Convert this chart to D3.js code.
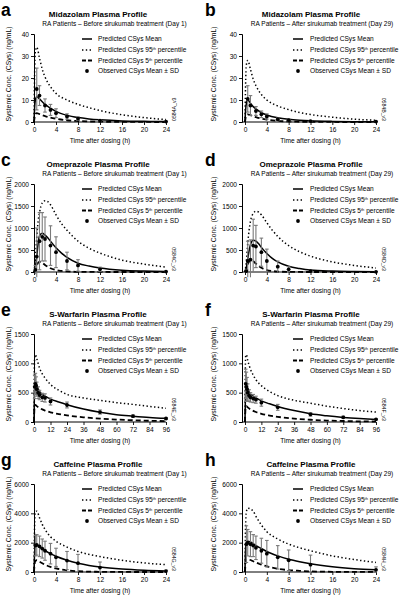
<!DOCTYPE html>
<html><head><meta charset="utf-8">
<script src="https://cdn.jsdelivr.net/npm/d3@7/dist/d3.min.js"></script>
<style>
html,body{margin:0;padding:0;background:#fff;}
svg{display:block;font-family:"Liberation Sans",Arial,Helvetica,sans-serif;}
</style></head>
<body><svg id="c" width="407" height="596"></svg>
<script>
// ---------- tick labels ----------
const xTicks24 = [0,4,8,12,16,20,24];
const xTicks96 = [0,12,24,36,48,60,72,84,96];
const yTicksMidaz = [0,10,20,30,40];
const yTicksOmep = [0,500,1000,1500,2000];
const yTicksWarf = [0,500,1000,1500];
const yTicksCaff = [0,2000,4000,6000];

// ---------- Midazolam ----------
const midazTimes = [0,0.1,0.25,0.5,1,1.5,2,3,4,6,8,10,12,16,20,24];
const midazD1P95  = [0,20,32,34,29,24,20.5,16,13,10,8,6.5,5.2,3.3,2,1.1];
const midazD1Mean = [0,6,10,11.5,10.5,9.2,8,6.3,4.8,3,2,1.4,1,0.5,0.3,0.2];
const midazD1P5   = [0,2,3.5,4,3.6,3.1,2.7,2,1.5,0.8,0.45,0.25,0.15,0.05,0.02,0];
const midazObsTimes = [0.5,1,2,3,4,6,8,12,24];
const midazD1ObsMean = [15,12,7.5,5.5,4,2.5,1.5,0.6,0.2];
const midazD1ObsSD   = [9.5,4.5,3,2.5,2,1.2,0.8,0.4,0.1];
const midazD29P95  = [0,16,26,28,24,19.5,16.5,12.5,10,7.3,5.6,4.3,3.4,2.2,1.3,0.8];
const midazD29Mean = [0,5,8.5,10,8.5,7,6,4.3,3.2,1.9,1.2,0.8,0.55,0.28,0.15,0.1];
const midazD29P5   = [0,1.8,3,3.5,3.1,2.6,2.2,1.5,1.05,0.5,0.25,0.12,0.07,0.02,0,0];
const midazD29ObsMean = [10.5,7.5,5,3.5,2.5,1.2,0.8,0.4,0.2];
const midazD29ObsSD   = [6,4.5,2,1.5,1.2,0.6,0.4,0.2,0.1];

// ---------- Omeprazole ----------
const omepTimes = [0,0.25,0.5,0.75,1,1.5,2,2.5,3,4,5,6,8,10,12,16,20,24];
const omepD1P95  = [0,300,800,1150,1350,1570,1620,1600,1530,1300,1100,950,700,540,430,270,180,110];
const omepD1Mean = [0,100,350,650,820,880,840,780,700,550,430,330,200,135,90,40,20,10];
const omepD1P5   = [0,60,150,210,230,210,160,120,85,45,25,12,4,2,1,0,0,0];
const omepObsTimes = [0.25,0.5,1,1.5,2,3,4,6,8,12,24];
const omepD1ObsMean = [50,350,700,800,750,600,450,250,150,60,10];
const omepD1ObsSD   = [100,650,650,550,500,450,350,200,130,50,5];
const omepD29P95  = [0,250,650,950,1150,1330,1380,1360,1300,1120,950,810,600,460,360,230,150,90];
const omepD29Mean = [0,100,300,480,620,720,700,640,560,420,310,230,130,80,45,20,10,5];
const omepD29P5   = [0,80,170,240,270,250,190,140,95,45,22,10,3,1,0,0,0,0];
const omepD29ObsMean = [20,250,280,600,580,450,250,120,60,20,5];
const omepD29ObsSD   = [40,450,450,600,480,320,270,130,60,20,5];

// ---------- S-Warfarin ----------
const warfTimes = [0,0.25,0.5,1,2,4,6,8,12,18,24,36,48,60,72,84,96];
const warfD1P95  = [0,900,1100,1150,1080,920,820,750,640,540,470,410,370,330,300,265,235];
const warfD1Mean = [0,400,650,700,620,520,470,440,390,340,295,220,165,125,100,78,62];
const warfD1P5   = [0,200,280,290,270,240,215,195,165,135,112,80,58,42,30,21,15];
const warfObsTimes = [0.5,1,1.5,2,3,4,6,8,12,24,48,72,96];
const warfD1ObsMean = [600,650,620,560,500,460,420,410,350,290,170,100,60];
const warfD1ObsSD   = [200,180,150,120,100,80,70,70,60,50,35,20,15];
const warfD29P95  = [0,900,1130,1150,1050,900,800,720,620,520,450,370,320,270,230,195,170];
const warfD29Mean = [0,350,580,620,560,480,440,410,360,310,265,195,140,105,78,58,43];
const warfD29P5   = [0,180,260,270,250,215,190,170,140,110,88,58,38,25,17,11,8];
const warfD29ObsMean = [650,600,560,500,450,420,400,380,330,250,130,80,45];
const warfD29ObsSD   = [250,250,200,150,100,80,70,60,60,50,30,20,10];

// ---------- Caffeine ----------
const caffTimes = [0,0.1,0.25,0.5,1,1.5,2,3,4,6,8,10,12,16,20,24];
const caffD1P95  = [0,3000,4100,4150,3700,3250,2900,2400,2100,1700,1400,1200,1050,800,620,500];
const caffD1Mean = [0,1200,1750,1850,1700,1570,1450,1250,1070,800,600,450,340,200,120,75];
const caffD1P5   = [0,500,750,800,700,600,500,350,240,110,50,25,12,3,1,0];
const caffObsTimes = [0.25,0.5,1,1.5,2,3,4,6,8,12,24];
const caffD1ObsMean = [1800,1850,1750,1600,1450,1250,1000,780,600,300,60];
const caffD1ObsSD   = [700,700,700,650,650,700,620,620,600,380,60];
const caffD29P95  = [0,3000,4100,4350,4300,4150,3800,3200,2750,2250,1900,1650,1450,1100,850,650];
const caffD29Mean = [0,1500,2000,2100,2050,1930,1800,1600,1400,1100,870,700,560,360,230,150];
const caffD29P5   = [0,600,850,880,820,730,650,500,380,220,130,80,45,15,5,3];
const caffD29ObsMean = [1900,2000,1900,1800,1650,1450,1250,1000,800,500,150];
const caffD29ObsSD   = [1250,900,850,750,800,850,900,800,700,650,200];

const sub1 = "RA Patients \u2013 Before sirukumab treatment (Day 1)";
const sub29 = "RA Patients \u2013 After sirukumab treatment (Day 29)";

const panels = [
 {letter:"a",col:0,row:0,title:"Midazolam Plasma Profile",sub:sub1,tag:"0584A_v3",tagRot:-90,xT:xTicks24,yT:yTicksMidaz,ct:midazTimes,p95:midazD1P95,mean:midazD1Mean,p5:midazD1P5,ot:midazObsTimes,om:midazD1ObsMean,os:midazD1ObsSD},
 {letter:"b",col:1,row:0,title:"Midazolam Plasma Profile",sub:sub29,tag:"0584B_v3",tagRot:90,xT:xTicks24,yT:yTicksMidaz,ct:midazTimes,p95:midazD29P95,mean:midazD29Mean,p5:midazD29P5,ot:midazObsTimes,om:midazD29ObsMean,os:midazD29ObsSD},
 {letter:"c",col:0,row:1,title:"Omeprazole Plasma Profile",sub:sub1,tag:"0584C_v3",tagRot:90,xT:xTicks24,yT:yTicksOmep,ct:omepTimes,p95:omepD1P95,mean:omepD1Mean,p5:omepD1P5,ot:omepObsTimes,om:omepD1ObsMean,os:omepD1ObsSD},
 {letter:"d",col:1,row:1,title:"Omeprazole Plasma Profile",sub:sub29,tag:"0584D_v3",tagRot:90,xT:xTicks24,yT:yTicksOmep,ct:omepTimes,p95:omepD29P95,mean:omepD29Mean,p5:omepD29P5,ot:omepObsTimes,om:omepD29ObsMean,os:omepD29ObsSD},
 {letter:"e",col:0,row:2,title:"S-Warfarin Plasma Profile",sub:sub1,tag:"0584E_v3",tagRot:90,xT:xTicks96,yT:yTicksWarf,ct:warfTimes,p95:warfD1P95,mean:warfD1Mean,p5:warfD1P5,ot:warfObsTimes,om:warfD1ObsMean,os:warfD1ObsSD},
 {letter:"f",col:1,row:2,title:"S-Warfarin Plasma Profile",sub:sub29,tag:"0584F_v3",tagRot:90,xT:xTicks96,yT:yTicksWarf,ct:warfTimes,p95:warfD29P95,mean:warfD29Mean,p5:warfD29P5,ot:warfObsTimes,om:warfD29ObsMean,os:warfD29ObsSD},
 {letter:"g",col:0,row:3,title:"Caffeine Plasma Profile",sub:sub1,tag:"0584G_v3",tagRot:90,xT:xTicks24,yT:yTicksCaff,ct:caffTimes,p95:caffD1P95,mean:caffD1Mean,p5:caffD1P5,ot:caffObsTimes,om:caffD1ObsMean,os:caffD1ObsSD},
 {letter:"h",col:1,row:3,title:"Caffeine Plasma Profile",sub:sub29,tag:"0584H_v3",tagRot:90,xT:xTicks24,yT:yTicksCaff,ct:caffTimes,p95:caffD29P95,mean:caffD29Mean,p5:caffD29P5,ot:caffObsTimes,om:caffD29ObsMean,os:caffD29ObsSD}
];

// ---------- layout ----------
const colG = [
 {axisX:34, x0:34, x1:166, letterX:1, yTitleX:10.5, titleX:98, subX:114.5, legL0:82, legL1:92, legT:98, tagX:175.5},
 {axisX:242, x0:245, x1:376, letterX:205, yTitleX:215.5, titleX:311, subX:322, legL0:293, legL1:303, legT:310, tagX:386}
];
const rowY = [0,150,300,450];
const yTopRel = 34, yBotRel = 122;

const svg = d3.select("#c");
const grey = "#7a7a7a";

panels.forEach(p => {
  const cg = colG[p.col], oy = rowY[p.row];
  const g = svg.append("g");
  const x = d3.scaleLinear().domain([0, p.xT[p.xT.length-1]]).range([cg.x0, cg.x1]);
  const y = d3.scaleLinear().domain([0, p.yT[p.yT.length-1]]).range([oy+yBotRel, oy+yTopRel]);

  // letter
  g.append("text").attr("x",cg.letterX).attr("y",oy+16).attr("font-size",17.5).attr("font-weight","bold").text(p.letter);
  // titles
  g.append("text").attr("x",cg.titleX).attr("y",oy+16.5).attr("text-anchor","middle").attr("font-size",8).attr("font-weight","bold").text(p.title);
  g.append("text").attr("x",cg.subX).attr("y",oy+25.5).attr("text-anchor","middle").attr("font-size",6.5).text(p.sub);

  // axes
  const xa = g.append("g").attr("transform",`translate(0,${oy+yBotRel})`)
    .call(d3.axisBottom(x).tickValues(p.xT).tickSize(3).tickPadding(2).tickFormat(d3.format("d")));
  xa.select(".domain").attr("d",`M${cg.axisX},0H${cg.x1}`);
  const ya = g.append("g").attr("transform",`translate(${cg.axisX},0)`)
    .call(d3.axisLeft(y).tickValues(p.yT).tickSize(3).tickPadding(2).tickFormat(d3.format("d")));
  [xa,ya].forEach(a=>{
    a.selectAll("text").attr("font-size",6.6).attr("font-family","Liberation Sans, Arial, sans-serif").attr("fill","#000");
    a.selectAll("line").attr("stroke","#000").attr("stroke-width",0.9);
    a.select(".domain").attr("stroke","#000").attr("stroke-width",1);
  });

  // axis titles
  g.append("text").attr("x",(cg.x0+cg.x1)/2).attr("y",oy+142.5).attr("text-anchor","middle").attr("font-size",6.6).text("Time after dosing (h)");
  g.append("text").attr("transform",`translate(${cg.yTitleX},${oy+74}) rotate(-90)`).attr("text-anchor","middle").attr("font-size",6.8).text("Systemic Conc. (CSys) (ng/mL)");

  // tag
  if (p.tagRot < 0) {
    g.append("text").attr("transform",`translate(${cg.tagX},${oy+yBotRel-1}) rotate(-90)`).attr("text-anchor","start").attr("font-size",5.2).text(p.tag);
  } else {
    g.append("text").attr("transform",`translate(${cg.tagX-4},${oy+yBotRel-1}) rotate(90)`).attr("text-anchor","end").attr("font-size",5.2).text(p.tag);
  }

  // curves
  const line = d3.line().x(d=>x(d[0])).y(d=>y(d[1])).curve(d3.curveMonotoneX);
  const pts = arr => p.ct.map((t,i)=>[t,arr[i]]);
  g.append("path").attr("d",line(pts(p.p95))).attr("fill","none").attr("stroke","#000").attr("stroke-width",1.5).attr("stroke-dasharray","1.4,2.4");
  g.append("path").attr("d",line(pts(p.p5))).attr("fill","none").attr("stroke","#000").attr("stroke-width",1.8).attr("stroke-dasharray","5,3");
  g.append("path").attr("d",line(pts(p.mean))).attr("fill","none").attr("stroke","#000").attr("stroke-width",1.5);

  // observed
  const obs = p.ot.map((t,i)=>({t, m:p.om[i], s:p.os[i]}));
  const eb = g.append("g").attr("stroke",grey).attr("stroke-width",1.1);
  obs.forEach(o=>{
    const xx = x(o.t), yt = y(o.m+o.s), yb = y(Math.max(o.m-o.s, -p.yT[p.yT.length-1]*0.06));
    eb.append("line").attr("x1",xx).attr("x2",xx).attr("y1",yt).attr("y2",yb);
    eb.append("line").attr("x1",xx-1.8).attr("x2",xx+1.8).attr("y1",yt).attr("y2",yt);
    if (o.m-o.s > 0) eb.append("line").attr("x1",xx-1.8).attr("x2",xx+1.8).attr("y1",yb).attr("y2",yb);
  });
  g.append("g").selectAll("circle").data(obs).join("circle")
    .attr("cx",o=>x(o.t)).attr("cy",o=>y(o.m)).attr("r",1.9).attr("fill","#000");

  // legend
  const rows = [oy+39, oy+50, oy+60.5, oy+71];
  const lg = g.append("g");
  lg.append("line").attr("x1",cg.legL0).attr("x2",cg.legL1).attr("y1",rows[0]).attr("y2",rows[0]).attr("stroke","#000").attr("stroke-width",1.5);
  lg.append("line").attr("x1",cg.legL0).attr("x2",cg.legL1).attr("y1",rows[1]).attr("y2",rows[1]).attr("stroke","#000").attr("stroke-width",1.5).attr("stroke-dasharray","1.4,2.4");
  lg.append("line").attr("x1",cg.legL0).attr("x2",cg.legL1).attr("y1",rows[2]).attr("y2",rows[2]).attr("stroke","#000").attr("stroke-width",1.8).attr("stroke-dasharray","4,2");
  lg.append("circle").attr("cx",(cg.legL0+cg.legL1)/2).attr("cy",rows[3]).attr("r",1.9).attr("fill","#000");
  const fs = 6.6;
  const t1 = lg.append("text").attr("x",cg.legT).attr("y",rows[0]+2.2).attr("font-size",fs).text("Predicted CSys Mean");
  const t2 = lg.append("text").attr("x",cg.legT).attr("y",rows[1]+2.2).attr("font-size",fs);
  t2.append("tspan").text("Predicted CSys 95");
  t2.append("tspan").attr("font-size",4).attr("dy",-2.2).text("th");
  t2.append("tspan").attr("dy",2.2).text(" percentile");
  const t3 = lg.append("text").attr("x",cg.legT).attr("y",rows[2]+2.2).attr("font-size",fs);
  t3.append("tspan").text("Predicted CSys 5");
  t3.append("tspan").attr("font-size",4).attr("dy",-2.2).text("th");
  t3.append("tspan").attr("dy",2.2).text(" percentile");
  lg.append("text").attr("x",cg.legT).attr("y",rows[3]+2.2).attr("font-size",fs).text("Observed CSys Mean \u00b1 SD");
});
</script></body></html>
